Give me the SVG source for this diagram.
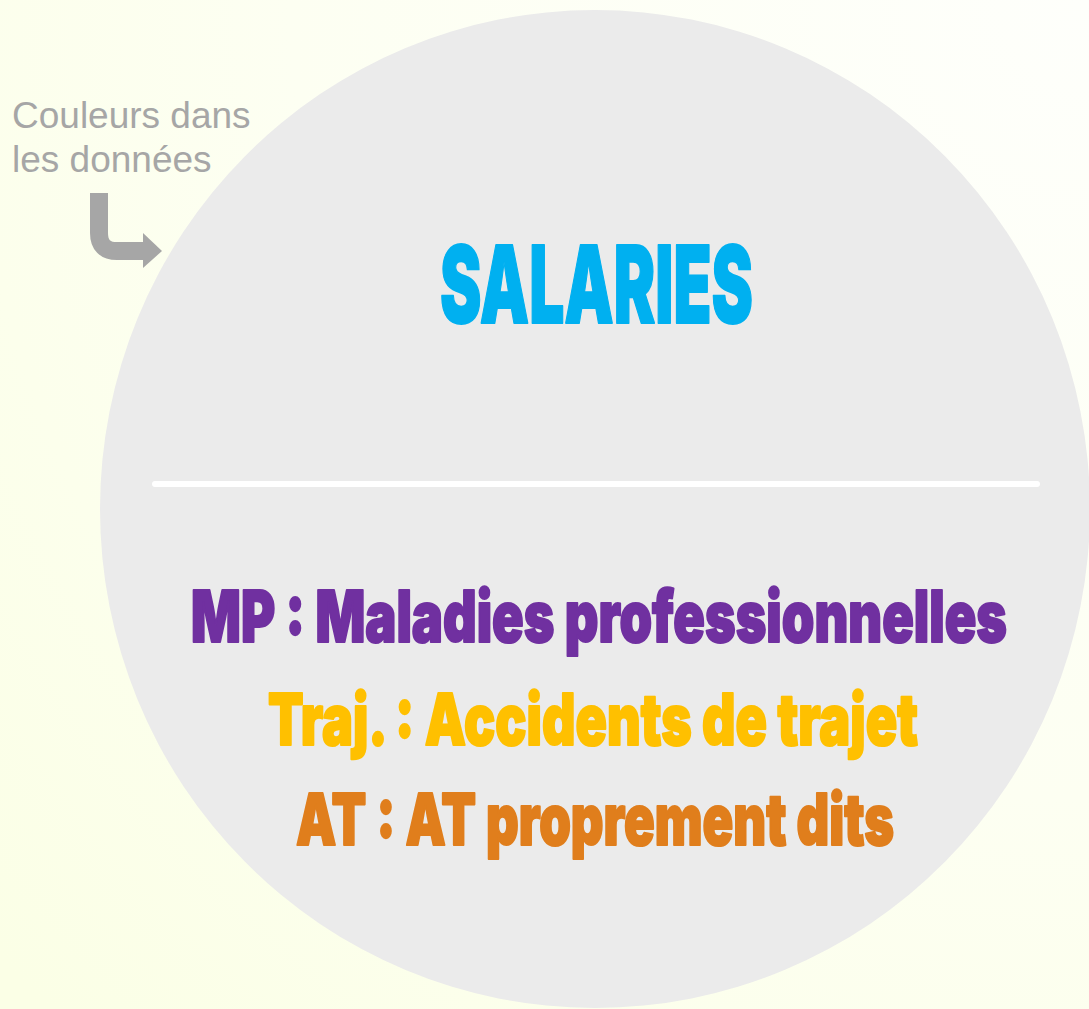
<svg xmlns="http://www.w3.org/2000/svg" width="1089" height="1009" viewBox="0 0 1089 1009">
<defs>
<radialGradient id="bg" cx="1089" cy="0" r="1450" gradientUnits="userSpaceOnUse">
<stop offset="0" stop-color="#fefffb"/>
<stop offset="0.55" stop-color="#fdfff2"/>
<stop offset="1" stop-color="#fbffe6"/>
</radialGradient>
<style>
.note{font-family:"Liberation Sans",Arial,sans-serif;font-size:37px;fill:#a6a6a6}
.big{font-family:Inter,"Roboto","DejaVu Sans",sans-serif;font-weight:900;stroke-width:1.2;stroke-linejoin:round}
</style>
</defs>
<rect width="1089" height="1009" fill="url(#bg)"/>
<g id="circle">
<ellipse cx="595" cy="509" rx="495" ry="499" fill="#ebebeb"/>
<line x1="155" y1="484" x2="1037" y2="484" stroke="#ffffff" stroke-width="6" stroke-linecap="round"/>
</g>
<g id="note">
<text class="note" x="12" y="128">Couleurs dans</text>
<text class="note" x="12" y="172">les données</text>
</g>
<g id="connectors">
<path d="M99,193 V233 Q99,251 117,251 H146" fill="none" stroke="#a6a6a6" stroke-width="18"/>
<polygon points="143,233 162,251 143,268" fill="#a6a6a6"/>
</g>
<g id="title">
<text class="big" transform="translate(440,323) scale(1,1.5)" x="0" y="0" font-size="71.3" fill="#00b0f0" stroke="#00b0f0" textLength="313" lengthAdjust="spacingAndGlyphs">SALARIES</text>
</g>
<g id="legend">
<text class="big" transform="translate(191,642) scale(1,1.775)" x="0" y="0" font-size="40" fill="#7030a0" stroke="#7030a0" textLength="816" lengthAdjust="spacingAndGlyphs">MP : Maladies professionnelles</text>
<text class="big" transform="translate(268,745) scale(1,1.775)" x="0" y="0" font-size="40" fill="#ffc000" stroke="#ffc000" textLength="650" lengthAdjust="spacingAndGlyphs">Traj. : Accidents de trajet</text>
<text class="big" transform="translate(296,845) scale(1,1.775)" x="0" y="0" font-size="40" fill="#e07e1c" stroke="#e07e1c" textLength="598" lengthAdjust="spacingAndGlyphs">AT : AT proprement dits</text>
</g>
</svg>
